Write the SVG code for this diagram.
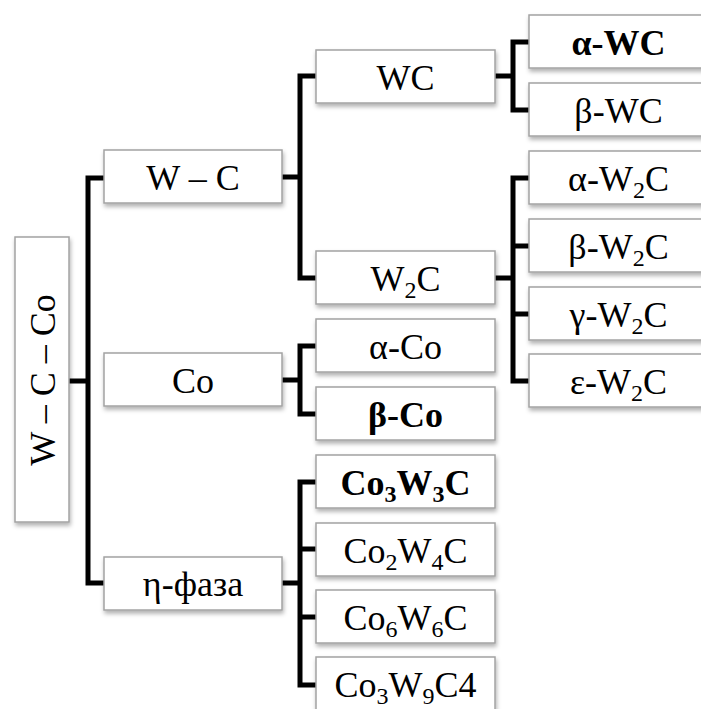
<svg xmlns="http://www.w3.org/2000/svg" width="701" height="709" viewBox="0 0 701 709">
<style>
.box{fill:#ffffff;stroke:#a3a3a3;stroke-width:1.5;filter:url(#sh)}
.t{font-family:'Liberation Serif',serif;font-size:36px;fill:#000;text-anchor:middle}
.b{font-weight:bold}
.s{font-size:24px}
.c{fill:none;stroke:#000;stroke-width:5;stroke-linejoin:miter;stroke-linecap:butt}
</style>
<defs>
<filter id="sh" x="-10%" y="-10%" width="130%" height="140%">
<feDropShadow dx="1" dy="3" stdDeviation="2" flood-color="#000" flood-opacity="0.3"/>
</filter>
</defs>
<rect width="701" height="709" fill="#fff"/>
<g id="connectors">
<path class="c" d="M69 381H88M104 178H88V583H104"/>
<path class="c" d="M282 177H300M316 76H300V278H316"/>
<path class="c" d="M282 380H300M316 346H300V414H316"/>
<path class="c" d="M282 583H300M316 482H300V685H316M300 549H316M300 617H316"/>
<path class="c" d="M495 76H513M529 42H513V110H529"/>
<path class="c" d="M495 278H513M529 178H513V381H529M513 246H529M513 314H529"/>
</g>
<g id="root"><rect class="box" x="15" y="237" width="54" height="285"/><text class="t" font-family="Liberation Serif" transform="translate(42 380) rotate(-90)" x="0" y="13">W – C – Co</text></g>
<g id="n-wc1"><rect class="box" x="104" y="150" width="178" height="53"/><text class="t" font-family="Liberation Serif" x="193" y="190">W – C</text></g>
<g id="n-co"><rect class="box" x="104" y="353" width="178" height="53"/><text class="t" font-family="Liberation Serif" x="193" y="393">Co</text></g>
<g id="n-eta"><rect class="box" x="104" y="557" width="178" height="53"/><text class="t" font-family="Liberation Serif" x="193" y="596">η-фаза</text></g>
<g id="n-wc"><rect class="box" x="316" y="50" width="179" height="53"/><text class="t" font-family="Liberation Serif" x="405.5" y="90">WC</text></g>
<g id="n-w2c"><rect class="box" x="316" y="251" width="179" height="53"/><text class="t" font-family="Liberation Serif" x="405.5" y="291">W<tspan class="s" dy="7">2</tspan><tspan dy="-7">C</tspan></text></g>
<g id="n-aco"><rect class="box" x="316" y="319" width="179" height="53"/><text class="t" font-family="Liberation Serif" x="405.5" y="359">α-Co</text></g>
<g id="n-bco"><rect class="box" x="316" y="387" width="179" height="53"/><text class="t b" font-family="Liberation Serif" x="405.5" y="427">β-Co</text></g>
<g id="n-co3w3c"><rect class="box" x="316" y="455" width="179" height="53"/><text class="t b" font-family="Liberation Serif" x="405.5" y="495">Co<tspan class="s" dy="7">3</tspan><tspan dy="-7">W</tspan><tspan class="s" dy="7">3</tspan><tspan dy="-7">C</tspan></text></g>
<g id="n-co2w4c"><rect class="box" x="316" y="523" width="179" height="53"/><text class="t" font-family="Liberation Serif" x="405.5" y="563">Co<tspan class="s" dy="7">2</tspan><tspan dy="-7">W</tspan><tspan class="s" dy="7">4</tspan><tspan dy="-7">C</tspan></text></g>
<g id="n-co6w6c"><rect class="box" x="316" y="590" width="179" height="53"/><text class="t" font-family="Liberation Serif" x="405.5" y="630">Co<tspan class="s" dy="7">6</tspan><tspan dy="-7">W</tspan><tspan class="s" dy="7">6</tspan><tspan dy="-7">C</tspan></text></g>
<g id="n-co3w9c4"><rect class="box" x="316" y="657" width="179" height="60"/><text class="t" font-family="Liberation Serif" x="405.5" y="697">Co<tspan class="s" dy="7">3</tspan><tspan dy="-7">W</tspan><tspan class="s" dy="7">9</tspan><tspan dy="-7">C4</tspan></text></g>
<g id="n-awc"><rect class="box" x="529" y="15" width="179" height="53"/><text class="t b" font-family="Liberation Serif" x="618.5" y="55">α-WC</text></g>
<g id="n-bwc"><rect class="box" x="529" y="83" width="179" height="53"/><text class="t" font-family="Liberation Serif" x="618.5" y="123">β-WC</text></g>
<g id="n-aw2c"><rect class="box" x="529" y="151" width="179" height="53"/><text class="t" font-family="Liberation Serif" x="618.5" y="191">α-W<tspan class="s" dy="7">2</tspan><tspan dy="-7">C</tspan></text></g>
<g id="n-bw2c"><rect class="box" x="529" y="219" width="179" height="53"/><text class="t" font-family="Liberation Serif" x="618.5" y="259">β-W<tspan class="s" dy="7">2</tspan><tspan dy="-7">C</tspan></text></g>
<g id="n-gw2c"><rect class="box" x="529" y="287" width="179" height="53"/><text class="t" font-family="Liberation Serif" x="618.5" y="327">γ-W<tspan class="s" dy="7">2</tspan><tspan dy="-7">C</tspan></text></g>
<g id="n-ew2c"><rect class="box" x="529" y="354" width="179" height="53"/><text class="t" font-family="Liberation Serif" x="618.5" y="394">ε-W<tspan class="s" dy="7">2</tspan><tspan dy="-7">C</tspan></text></g>
</svg>
